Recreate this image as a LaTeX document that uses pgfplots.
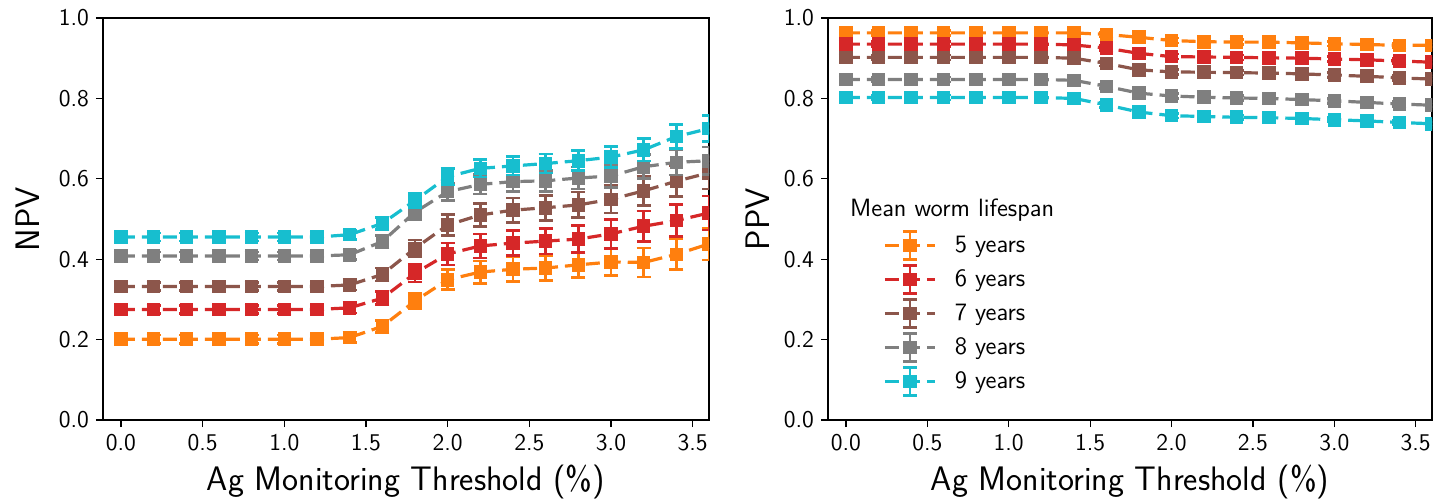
\documentclass[border=0pt]{standalone}
\usepackage{pgfplots}
\usepackage{pgfplotstable}
\pgfplotsset{compat=1.18}
\usetikzlibrary{calc}
\renewcommand{\familydefault}{\sfdefault}
\definecolor{cO}{HTML}{FF7F0E}
\definecolor{cR}{HTML}{D62728}
\definecolor{cB}{HTML}{8C564B}
\definecolor{cG}{HTML}{7F7F7F}
\definecolor{cC}{HTML}{17BECF}

% NPV: value and error for lifespan 5..9 years
\pgfplotstableread{
x   o     oe     r     re     b     be     g     ge     c     ce
0.0 0.201 0.010  0.275 0.010  0.332 0.010  0.408 0.010  0.455 0.010
0.2 0.201 0.010  0.275 0.010  0.332 0.010  0.408 0.010  0.455 0.010
0.4 0.201 0.010  0.275 0.010  0.332 0.010  0.408 0.010  0.455 0.010
0.6 0.201 0.010  0.275 0.010  0.332 0.010  0.408 0.010  0.455 0.010
0.8 0.201 0.010  0.275 0.010  0.332 0.010  0.408 0.010  0.455 0.010
1.0 0.201 0.010  0.275 0.010  0.332 0.010  0.408 0.010  0.455 0.010
1.2 0.201 0.010  0.275 0.011  0.332 0.011  0.408 0.011  0.455 0.011
1.4 0.205 0.012  0.279 0.013  0.336 0.013  0.411 0.012  0.461 0.012
1.6 0.233 0.015  0.303 0.016  0.362 0.016  0.444 0.015  0.489 0.015
1.8 0.296 0.020  0.365 0.022  0.427 0.021  0.517 0.019  0.546 0.019
2.0 0.349 0.025  0.413 0.027  0.485 0.026  0.568 0.022  0.605 0.020
2.2 0.368 0.028  0.433 0.030  0.510 0.029  0.586 0.024  0.626 0.022
2.4 0.375 0.030  0.440 0.031  0.522 0.030  0.593 0.025  0.632 0.023
2.6 0.378 0.031  0.445 0.032  0.528 0.031  0.595 0.026  0.638 0.024
2.8 0.386 0.032  0.450 0.034  0.535 0.032  0.602 0.027  0.645 0.025
3.0 0.393 0.034  0.463 0.036  0.549 0.034  0.607 0.028  0.654 0.026
3.2 0.392 0.036  0.482 0.038  0.570 0.036  0.630 0.030  0.672 0.028
3.4 0.412 0.038  0.496 0.040  0.594 0.038  0.641 0.032  0.705 0.030
3.6 0.438 0.040  0.515 0.042  0.615 0.040  0.645 0.034  0.725 0.032
}\npv

% PPV
\pgfplotstableread{
x   o     oe     r     re     b     be     g     ge     c     ce
0.0 0.963 0.006  0.935 0.006  0.902 0.006  0.847 0.006  0.802 0.006
0.2 0.963 0.006  0.935 0.006  0.902 0.006  0.847 0.006  0.802 0.006
0.4 0.963 0.006  0.935 0.006  0.902 0.006  0.847 0.006  0.802 0.006
0.6 0.963 0.006  0.935 0.006  0.902 0.006  0.847 0.006  0.802 0.006
0.8 0.963 0.006  0.935 0.006  0.902 0.006  0.847 0.006  0.802 0.006
1.0 0.963 0.006  0.935 0.006  0.902 0.006  0.847 0.006  0.802 0.006
1.2 0.963 0.006  0.935 0.006  0.902 0.006  0.847 0.006  0.802 0.006
1.4 0.963 0.006  0.933 0.006  0.900 0.006  0.845 0.006  0.800 0.006
1.6 0.959 0.006  0.925 0.006  0.887 0.006  0.830 0.006  0.784 0.006
1.8 0.952 0.006  0.912 0.006  0.871 0.006  0.813 0.006  0.766 0.006
2.0 0.944 0.006  0.904 0.006  0.866 0.006  0.806 0.006  0.757 0.006
2.2 0.941 0.006  0.903 0.006  0.865 0.006  0.803 0.006  0.755 0.006
2.4 0.940 0.006  0.902 0.006  0.864 0.006  0.801 0.006  0.753 0.006
2.6 0.940 0.006  0.901 0.006  0.863 0.006  0.800 0.006  0.752 0.006
2.8 0.938 0.006  0.900 0.006  0.861 0.006  0.797 0.006  0.750 0.006
3.0 0.936 0.006  0.898 0.006  0.858 0.006  0.794 0.006  0.747 0.006
3.2 0.934 0.006  0.896 0.006  0.855 0.006  0.790 0.006  0.744 0.006
3.4 0.932 0.006  0.893 0.006  0.851 0.006  0.786 0.006  0.740 0.006
3.6 0.932 0.006  0.890 0.006  0.848 0.006  0.783 0.006  0.737 0.006
}\ppv

\pgfplotsset{
  panel/.style={
    scale only axis, height=201pt,
    xmin=-0.11, xmax=3.6, ymin=0, ymax=1.0,
    xtick={0,0.5,1,1.5,2,2.5,3,3.5}, ytick={0,0.2,0.4,0.6,0.8,1.0},
    tick align=outside, xtick pos=bottom, ytick pos=left,
    major tick length=3.5pt,
    tick style={black, line width=0.6pt},
    axis line style={line width=0.8pt},
    /pgf/number format/fixed, /pgf/number format/fixed zerofill,
    /pgf/number format/precision=1, /pgf/number format/assume math mode=true,
    ticklabel style={font=\fontsize{12}{14}\selectfont},
    label style={font=\fontsize{17}{20}\selectfont},
    xlabel={Ag Monitoring Threshold (\%)},
    xlabel style={at={(axis description cs:0.5,-0.155)}, anchor=center},
    clip marker paths=true,
  },
  ser/.style={color=#1, line width=1.6pt, dash pattern=on 7pt off 3.5pt,
    mark=square*, mark size=2.6pt, mark options={solid},
    /pgfplots/error bars/y dir=both, /pgfplots/error bars/y explicit,
    /pgfplots/error bars/error bar style={line width=1.3pt, solid},
    /pgfplots/error bars/error mark options={rotate=90, mark size=3.5pt, line width=1.3pt, solid}},
}

\begin{document}
\begin{tikzpicture}
\begin{axis}[panel, name=left, width=303pt, ylabel={NPV},
  ylabel style={at={(axis description cs:-0.125,0.5)}, anchor=center}]
\addplot[ser=cO] table[x=x, y=o, y error=oe] {\npv};
\addplot[ser=cR] table[x=x, y=r, y error=re] {\npv};
\addplot[ser=cB] table[x=x, y=b, y error=be] {\npv};
\addplot[ser=cG] table[x=x, y=g, y error=ge] {\npv};
\addplot[ser=cC] table[x=x, y=c, y error=ce] {\npv};
\end{axis}
\begin{axis}[panel, width=302pt, ylabel={PPV},
  at={($(left.south east)+(59.5pt,0)$)}, anchor=south west,
  ylabel style={at={(axis description cs:-0.117,0.5)}, anchor=center},
  legend style={at={(axis description cs:0.091,0.473)}, anchor=north west,
    draw=none, fill=none, font=\fontsize{12.5}{14.5}\selectfont,
    row sep=1.7pt, column sep=6.6pt, inner sep=0pt, nodes={inner sep=2.5pt}},
  legend cell align=left,
  legend image code/.code={
    \draw[#1, solid, line width=1.3pt] (12.5pt,-7pt) -- (12.5pt,7pt)
      (9pt,-7pt) -- (16pt,-7pt) (9pt,7pt) -- (16pt,7pt);
    \draw[mark repeat=2, mark phase=2, #1] plot coordinates {(0pt,0pt) (12.5pt,0pt) (25pt,0pt)};
  }]
\addplot[ser=cO] table[x=x, y=o, y error=oe] {\ppv};
\addlegendentry{5 years}
\addplot[ser=cR] table[x=x, y=r, y error=re] {\ppv};
\addlegendentry{6 years}
\addplot[ser=cB] table[x=x, y=b, y error=be] {\ppv};
\addlegendentry{7 years}
\addplot[ser=cG] table[x=x, y=g, y error=ge] {\ppv};
\addlegendentry{8 years}
\addplot[ser=cC] table[x=x, y=c, y error=ce] {\ppv};
\addlegendentry{9 years}
\node[anchor=west, font=\fontsize{12.5}{14.5}\selectfont, inner sep=0pt]
  at (axis description cs:0.036,0.522) {Mean worm lifespan};
\end{axis}
\pgfresetboundingbox
\path ($(left.south west)+(-51.5pt,-41.5pt)$) rectangle ($(left.south west)+(671.5pt,210pt)$);
\end{tikzpicture}
\end{document}
